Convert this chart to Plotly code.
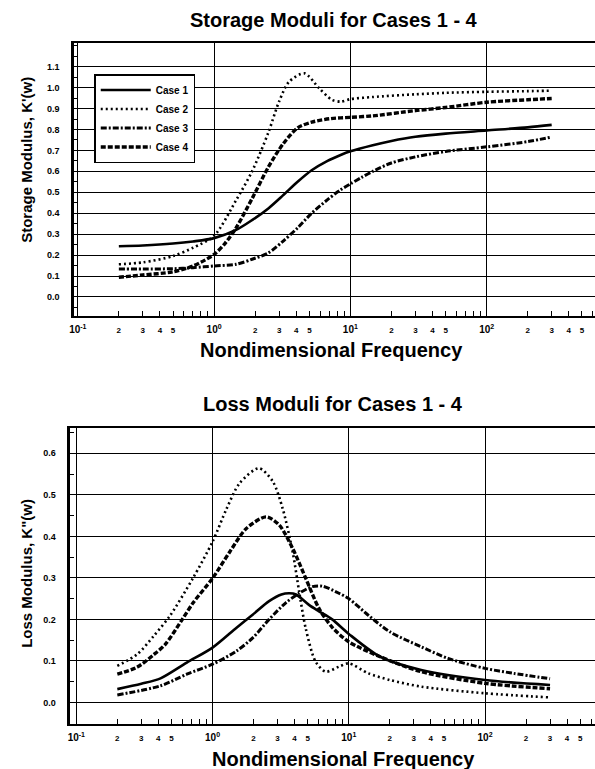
import plotly.graph_objects as go

# ---------------- data: Storage moduli K'(w) ----------------
f_s1 = [0.2, 0.3, 0.5, 0.7, 1.0, 1.45, 1.9, 2.5, 3.2, 4.1, 5.2, 6.8, 8.4, 10, 14.6, 20, 30, 50, 100, 200, 300]
k_s1 = [0.242, 0.246, 0.255, 0.265, 0.281, 0.32, 0.367, 0.423, 0.485, 0.55, 0.605, 0.65, 0.677, 0.696, 0.725, 0.745, 0.765, 0.78, 0.795, 0.81, 0.822]

f_s2 = [0.2, 0.3, 0.5, 0.7, 1.0, 1.45, 1.9, 2.5, 3.0, 3.55, 4.6, 5.9, 7.3, 8.5, 10, 14.6, 30, 50, 100, 200, 300]
k_s2 = [0.156, 0.165, 0.195, 0.235, 0.292, 0.462, 0.60, 0.785, 0.934, 1.028, 1.068, 0.997, 0.942, 0.933, 0.945, 0.955, 0.968, 0.975, 0.98, 0.983, 0.985]

f_s3 = [0.2, 0.3, 0.5, 0.7, 1.0, 1.45, 1.9, 2.5, 3.2, 4.1, 5.2, 6.8, 8.4, 10, 12, 14.6, 20, 30, 50, 100, 200, 300]
k_s3 = [0.133, 0.133, 0.135, 0.14, 0.148, 0.156, 0.18, 0.21, 0.266, 0.33, 0.40, 0.465, 0.51, 0.54, 0.57, 0.60, 0.64, 0.669, 0.695, 0.717, 0.742, 0.764]

f_s4 = [0.2, 0.3, 0.5, 0.7, 1.0, 1.2, 1.45, 1.9, 2.5, 3.2, 4.1, 5.2, 7.2, 10, 14.6, 30, 50, 100, 200, 300]
k_s4 = [0.094, 0.105, 0.12, 0.148, 0.203, 0.255, 0.33, 0.47, 0.62, 0.73, 0.808, 0.835, 0.852, 0.858, 0.865, 0.89, 0.905, 0.93, 0.942, 0.948]

# ---------------- data: Loss moduli K''(w) ----------------
f_l1 = [0.2, 0.3, 0.415, 0.647, 1.0, 1.5, 1.98, 2.6, 3.2, 3.66, 4.1, 5.1, 6.0, 7.55, 10, 17, 34, 100, 300]
k_l1 = [0.032, 0.045, 0.058, 0.096, 0.132, 0.18, 0.212, 0.244, 0.26, 0.263, 0.26, 0.235, 0.22, 0.2, 0.165, 0.11, 0.078, 0.054, 0.042]

f_l2 = [0.2, 0.28, 0.37, 0.49, 0.72, 1.0, 1.27, 1.58, 2.19, 2.77, 3.27, 3.87, 4.32, 4.83, 5.71, 6.76, 8.46, 10, 13.9, 20, 34, 100, 300]
k_l2 = [0.088, 0.116, 0.16, 0.21, 0.30, 0.387, 0.467, 0.528, 0.564, 0.532, 0.467, 0.363, 0.267, 0.178, 0.098, 0.074, 0.086, 0.094, 0.07, 0.054, 0.038, 0.022, 0.012]

f_l3 = [0.2, 0.415, 0.647, 1.0, 1.5, 1.98, 2.6, 3.45, 4.32, 5.4, 6.4, 8.46, 10, 13.9, 20, 34, 53.5, 100, 162, 300]
k_l3 = [0.018, 0.04, 0.068, 0.092, 0.124, 0.156, 0.2, 0.24, 0.263, 0.279, 0.28, 0.263, 0.25, 0.21, 0.17, 0.134, 0.106, 0.082, 0.07, 0.057]

f_l4 = [0.2, 0.28, 0.37, 0.45, 0.6, 0.72, 1.0, 1.34, 1.77, 2.47, 3.09, 3.87, 4.83, 6.05, 7.55, 10, 17, 34, 100, 300]
k_l4 = [0.068, 0.085, 0.115, 0.14, 0.2, 0.24, 0.299, 0.363, 0.419, 0.447, 0.427, 0.371, 0.299, 0.226, 0.181, 0.146, 0.11, 0.074, 0.046, 0.033]

case_names = ["Case 1", "Case 2", "Case 3", "Case 4"]
y_ticks_top = [0.0, 0.1, 0.2, 0.3, 0.4, 0.5, 0.6, 0.7, 0.8, 0.9, 1.0, 1.1]
y_ticks_bot = [0.0, 0.1, 0.2, 0.3, 0.4, 0.5, 0.6]
decades = [0.1, 1, 10, 100]
decade_exp = ["-1", "0", "1", "2"]

# ---------------- styles ----------------
FONT = "Liberation Sans"
styles = [
    dict(color="black", width=2.6, dash="solid"),
    dict(color="black", width=2.6, dash="2px,3px"),
    dict(color="black", width=3.0, dash="6px,2px,2px,2px"),
    dict(color="black", width=3.4, dash="5px,2px"),
]

fig = go.Figure()
storage = [(f_s1, k_s1), (f_s2, k_s2), (f_s3, k_s3), (f_s4, k_s4)]
loss = [(f_l1, k_l1), (f_l2, k_l2), (f_l3, k_l3), (f_l4, k_l4)]
for i, (fx, ky) in enumerate(storage):
    fig.add_trace(go.Scatter(x=fx, y=ky, mode="lines", name=case_names[i],
                             line=dict(shape="spline", smoothing=0.8, **styles[i]),
                             xaxis="x", yaxis="y", showlegend=True))
for i, (fx, ky) in enumerate(loss):
    fig.add_trace(go.Scatter(x=fx, y=ky, mode="lines", name=case_names[i],
                             line=dict(shape="spline", smoothing=0.8, **styles[i]),
                             xaxis="x2", yaxis="y2", showlegend=False))

# x tick values / labels (labels on 10^n and 2..5, bare ticks on 6..9)
xt_vals, xt_text = [], []
for d, e in zip(decades, decade_exp):
    for k in range(1, 10):
        v = d * k
        if v > 620:
            break
        xt_vals.append(v)
        if k == 1:
            xt_text.append("10<sup>" + e + "</sup>")
        elif k <= 5:
            xt_text.append('<span style="font-size:8px">' + str(k) + "</span>")
        else:
            xt_text.append("")

W, H = 595, 769

def xaxis(x0, rng, anchor):
    return dict(type="log", domain=[x0, 1.0], range=rng, anchor=anchor,
                tickmode="array", tickvals=xt_vals, ticktext=xt_text,
                ticks="inside", ticklen=5, tickwidth=1.2, tickcolor="black",
                showgrid=False, zeroline=False,
                showline=True, linewidth=2.2, linecolor="black", mirror=True,
                tickfont=dict(family=FONT, size=10, color="black", weight="bold"),
                ticklabelstandoff=3,
                minor=dict(tickmode="array", tickvals=decades, showgrid=True,
                           gridcolor="black", gridwidth=1.3, ticks=""))

def yaxis(y0, y1, rng, ticks, anchor):
    return dict(domain=[y0, y1], range=rng, anchor=anchor,
                tickmode="array", tickvals=ticks, ticktext=["%.1f" % t for t in ticks],
                ticks="inside", ticklen=5, tickwidth=1.2, tickcolor="black",
                showgrid=True, gridcolor="black", gridwidth=1.3, zeroline=False,
                showline=True, linewidth=3, linecolor="black",
                tickfont=dict(family=FONT, size=9, color="black", weight="bold"),
                ticklabelstandoff=10,
                minor=dict(dtick=0.05, ticks="inside", ticklen=4, tickcolor="black",
                           showgrid=False))

rng_top = [-1.025, 2.795]
rng_bot = [-1.043, 2.807]
fig.update_layout(
    width=W, height=H, margin=dict(l=0, r=0, t=0, b=0),
    paper_bgcolor="white", plot_bgcolor="white",
    font=dict(family=FONT, color="black"),
    xaxis=xaxis(70 / W, rng_top, "y"),
    yaxis=yaxis(1 - 316 / H, 1 - 43 / H, [-0.091, 1.213], y_ticks_top, "x"),
    xaxis2=xaxis(66 / W, rng_bot, "y2"),
    yaxis2=yaxis(1 - 724 / H, 1 - 428 / H, [-0.052, 0.661], y_ticks_bot, "x2"),
    legend=dict(x=90 / W, y=1 - 74 / H, xanchor="left", yanchor="top",
                bgcolor="white", bordercolor="black", borderwidth=1.5,
                font=dict(family=FONT, size=10, color="black", weight="bold"),
                itemwidth=50, tracegroupgap=0),
    showlegend=True,
)

def ann(text, x, y, size, angle=0):
    fig.add_annotation(text=text, x=x, y=y, xref="paper", yref="paper",
                       xanchor="center", yanchor="middle", showarrow=False,
                       textangle=angle,
                       font=dict(family=FONT, size=size, color="black", weight="bold"))

ann("Storage Moduli for Cases 1 - 4", 332 / W, 1 - 20 / H, 20)
ann("Nondimensional Frequency", 329 / W, 1 - 350 / H, 20)
ann("Storage Modulus, K'(w)", 21 / W, 1 - 160 / H, 15, -90)
ann("Loss Moduli for Cases 1 - 4", 331 / W, 1 - 404 / H, 20)
ann("Nondimensional Frequency", 341 / W, 1 - 759 / H, 20)
ann("Loss Modulus, K\"(w)", 21 / W, 1 - 573 / H, 15, -90)

fig.write_html("out.html")
